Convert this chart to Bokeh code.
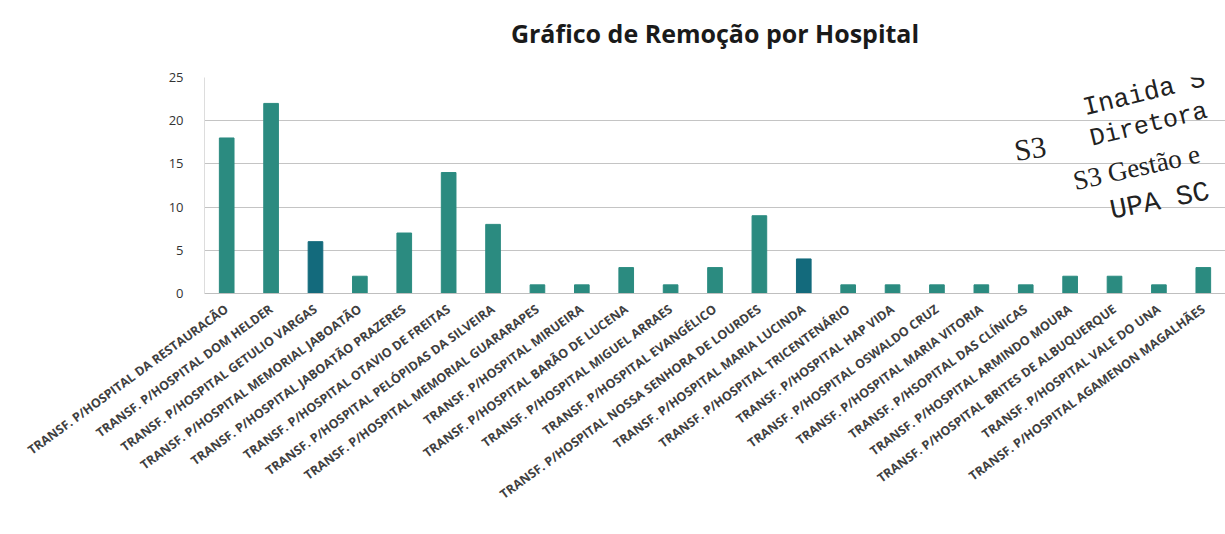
from bokeh.plotting import figure
from bokeh.models import ColumnDataSource, Label, Title
from bokeh.embed import file_html
from bokeh.resources import INLINE

hospitals = [
    "TRANSF. P/HOSPITAL DA RESTAURACÃO",
    "TRANSF. P/HOSPITAL DOM HELDER",
    "TRANSF. P/HOSPITAL GETULIO VARGAS",
    "TRANSF. P/HOSPITAL MEMORIAL JABOATÃO",
    "TRANSF. P/HOSPITAL JABOATÃO PRAZERES",
    "TRANSF. P/HOSPITAL OTAVIO DE FREITAS",
    "TRANSF. P/HOSPITAL PELÓPIDAS DA SILVEIRA",
    "TRANSF. P/HOSPITAL MEMORIAL GUARARAPES",
    "TRANSF. P/HOSPITAL MIRUEIRA",
    "TRANSF. P/HOSPITAL BARÃO DE LUCENA",
    "TRANSF. P/HOSPITAL MIGUEL ARRAES",
    "TRANSF. P/HOSPITAL EVANGÉLICO",
    "TRANSF. P/HOSPITAL NOSSA SENHORA DE LOURDES",
    "TRANSF. P/HOSPITAL MARIA LUCINDA",
    "TRANSF. P/HOSPITAL TRICENTENÁRIO",
    "TRANSF. P/HOSPITAL HAP VIDA",
    "TRANSF. P/HOSPITAL OSWALDO CRUZ",
    "TRANSF. P/HOSPITAL MARIA VITORIA",
    "TRANSF. P/HSOPITAL DAS CLÍNICAS",
    "TRANSF. P/HOSPITAL ARMINDO MOURA",
    "TRANSF. P/HOSPITAL BRITES DE ALBUQUERQUE",
    "TRANSF. P/HOSPITAL VALE DO UNA",
    "TRANSF. P/HOSPITAL AGAMENON MAGALHÃES",
]
removals = [18, 22, 6, 2, 7, 14, 8, 1, 1, 3, 1, 3, 9, 4, 1, 1, 1, 1, 1, 2, 2, 1, 3]
highlighted = ["TRANSF. P/HOSPITAL GETULIO VARGAS", "TRANSF. P/HOSPITAL MARIA LUCINDA"]

TEAL = "#2B8B80"
DARK = "#136A7C"
colors = [DARK if h in highlighted else TEAL for h in hospitals]

src = ColumnDataSource(dict(x=hospitals, top=removals, color=colors))

W, H = 1225, 534
FL, FT, FB = 204, 77, 293
p = figure(x_range=hospitals, y_range=(0, 25), width=W, height=H,
           output_backend="svg", toolbar_location=None,
           min_border_left=FL, min_border_right=0, min_border_top=0,
           min_border_bottom=H - FB)
p.title = Title(text="Gráfico de Remoção por Hospital", align="center",
                text_font="Open Sans", text_font_size="25px",
                text_font_style="bold", text_color="#1a1a1a", standoff=27)
# spacer between the title and the frame
p.add_layout(Title(text=" ", text_font_size="1px", standoff=11), "above")

p.vbar(x="x", top="top", width=0.33, color="color", source=src)

p.outline_line_color = None
p.background_fill_color = "white"
p.xgrid.grid_line_color = None
p.ygrid.grid_line_color = "#C4C4C4"
p.ygrid.grid_line_width = 1.2
p.yaxis.ticker = [0, 5, 10, 15, 20, 25]
p.yaxis.axis_line_color = "#DDDDDD"
p.yaxis.major_tick_line_color = None
p.yaxis.minor_tick_line_color = None
p.yaxis.major_label_text_font = "Open Sans"
p.yaxis.major_label_text_font_size = "13px"
p.yaxis.major_label_text_color = "#333333"
p.yaxis.major_label_standoff = 15

p.xaxis.axis_line_color = "#BFBFBF"
p.xaxis.major_tick_line_color = None
p.xaxis.major_label_orientation = 0.63
p.xaxis.major_label_text_font = "Open Sans"
p.xaxis.major_label_text_font_size = "12.5px"
p.xaxis.major_label_text_font_style = "bold"
p.xaxis.major_label_text_color = "#404040"
p.xaxis.major_label_standoff = 8

# stamp (annotation text on the scanned page)
BAND = (W - FL) / len(hospitals)
UNIT = (FB - FT) / 25
stamp = [
    ("Inaida S", 1083, 108, "26px", "Liberation Mono", 0.24),
    ("Diretora", 1090, 139, "25px", "Liberation Mono", 0.24),
    ("S3 Gestão e", 1073, 181, "27px", "Liberation Serif", 0.22),
    ("UPA SC", 1110, 211, "28px", "Liberation Mono", 0.2),
    ("S3", 1014, 150, "30px", "Liberation Sans Narrow", 0.15),
]
for txt, xi, yi, fs, ff, ang in stamp:
    xd = (xi - FL) / BAND
    yd = (FB - yi) / UNIT
    p.add_layout(Label(x=xd, y=yd, text=txt, angle=ang, text_font=ff,
                       text_font_size=fs, text_color="#222222",
                       text_baseline="alphabetic"))

open("out.html", "w").write(file_html(p, INLINE))
